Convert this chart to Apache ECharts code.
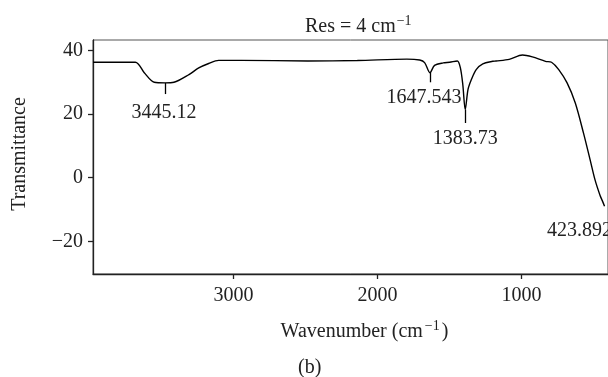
<!DOCTYPE html>
<html>
<head>
<meta charset="utf-8">
<script src="https://cdn.jsdelivr.net/npm/echarts@6/dist/echarts.min.js"></script>
<style>html,body{margin:0;padding:0;background:#fff}#c{width:608px;height:377px}</style>
</head>
<body>
<div id="c"></div>
<script>
// Spectrum trace (wavenumber, transmittance)
const wavenumbers = [3975, 3681, 3619, 3550, 3475, 3413, 3309, 3241, 3172, 3103, 2945, 2484, 2140, 1796, 1707, 1673, 1636, 1604, 1544, 1499, 1446, 1425, 1408, 1391, 1372, 1349, 1315, 1269, 1200, 1177, 1086, 994, 925, 834, 792, 742, 684, 627, 570, 524, 490, 455, 439, 424];
const transmittance = [36.3, 36.3, 33.0, 30.0, 29.8, 30.0, 32.4, 34.5, 35.9, 36.9, 36.9, 36.7, 36.85, 37.3, 37.0, 36.2, 33.0, 35.3, 36.1, 36.3, 36.7, 34.6, 29.3, 21.4, 27.7, 30.8, 34.0, 35.8, 36.6, 36.7, 37.2, 38.6, 38.0, 36.6, 36.3, 34.0, 29.8, 23.5, 14.0, 5.6, -0.7, -5.6, -7.3, -9.0];

// Peak annotations
const peakLabels = ['3445.12', '1647.543', '1383.73', '423.892'];
const peakX = [3475, 1636, 1391, 424];
const peakY = [29.8, 33.0, 21.4, -9.0];
const peakTickEnd = [26.3, 30.0, 17.2, -9.0];

// Axis ticks
const xTicks = [3000, 2000, 1000];
const yTicks = [-20, 0, 20, 40];

const FONT = 'Liberation Serif';
const INK = '#222';

// label placement tweaks (pixels)
const labelDx = [-1, -6, 0, -25];
const labelDist = [8.5, 5, 6, 14];

const seriesData = wavenumbers.map((w, i) => [w, transmittance[i]]);

const markLines = [];
const markPoints = [];
peakLabels.forEach((t, i) => {
  if (peakTickEnd[i] !== peakY[i]) {
    markLines.push([{ coord: [peakX[i], peakY[i]] }, { coord: [peakX[i], peakTickEnd[i]] }]);
  }
  markPoints.push({
    coord: [peakX[i], peakTickEnd[i]],
    symbol: 'circle',
    symbolSize: 0,
    label: {
      show: true, position: 'bottom', distance: labelDist[i], offset: [labelDx[i], 0],
      formatter: t, fontFamily: FONT, fontSize: 20, color: INK
    }
  });
});

const chart = echarts.init(document.getElementById('c'), null, { renderer: 'canvas' });
chart.setOption({
  animation: false,
  backgroundColor: '#fff',
  title: {
    text: '{a|Res = 4 cm}{b|−1}',
    left: 300, top: 9,
    textStyle: {
      fontWeight: 'normal',
      rich: {
        a: { fontFamily: FONT, fontSize: 20, fontWeight: 'normal', color: INK, lineHeight: 26 },
        b: { fontFamily: FONT, fontSize: 14, fontWeight: 'normal', color: INK, lineHeight: 26, verticalAlign: 'top', padding: [0, 0, 0, 1] }
      }
    }
  },
  grid: {
    left: 93, top: 40, width: 520, height: 234,
    show: true, borderColor: '#555', borderWidth: 1, backgroundColor: 'transparent'
  },
  xAxis: {
    type: 'value', inverse: true, min: 400, max: 3975,
    name: '{a|Wavenumber (cm}{b|−1}{a|)}',
    nameLocation: 'middle', nameGap: 45,
    nameTextStyle: {
      padding: [0, 0, 0, 28],
      rich: {
        a: { fontFamily: FONT, fontSize: 20, color: INK, lineHeight: 26 },
        b: { fontFamily: FONT, fontSize: 14, color: INK, lineHeight: 26, verticalAlign: 'top', padding: [0, 2, 0, 2] }
      }
    },
    axisLine: { show: true, onZero: false, lineStyle: { color: INK, width: 1.3 } },
    axisTick: { show: true, inside: false, length: 5, lineStyle: { color: INK, width: 1.3 }, customValues: xTicks },
    axisLabel: { show: true, margin: 12, fontFamily: FONT, fontSize: 20, color: INK, customValues: xTicks, formatter: v => String(v) },
    splitLine: { show: false }
  },
  yAxis: {
    type: 'value', min: -30.3, max: 43.3,
    name: 'Transmittance', nameLocation: 'middle', nameGap: 63, nameRotate: 90,
    nameTextStyle: { fontFamily: FONT, fontSize: 20, color: INK, padding: [0, 0, 0, 6] },
    axisLine: { show: true, onZero: false, lineStyle: { color: INK, width: 1.3 } },
    axisTick: { show: true, inside: false, length: 5, lineStyle: { color: INK, width: 1.3 }, customValues: yTicks },
    axisLabel: {
      show: true, margin: 10, fontFamily: FONT, fontSize: 20, color: INK, customValues: yTicks,
      formatter: v => (v < 0 ? '−' + Math.abs(v) : String(v))
    },
    splitLine: { show: false }
  },
  graphic: [{
    type: 'text', left: 298, top: 358,
    style: { text: '(b)', fontFamily: FONT, fontSize: 20, fill: INK }
  }],
  series: [{
    type: 'line',
    data: seriesData,
    showSymbol: false,
    smooth: 0.3,
    lineStyle: { color: '#000', width: 1.4 },
    markLine: {
      silent: true, symbol: 'none', animation: false,
      label: { show: false },
      lineStyle: { color: '#000', width: 1.3, type: 'solid' },
      data: markLines
    },
    markPoint: { silent: true, animation: false, data: markPoints }
  }]
});
</script>
</body>
</html>
